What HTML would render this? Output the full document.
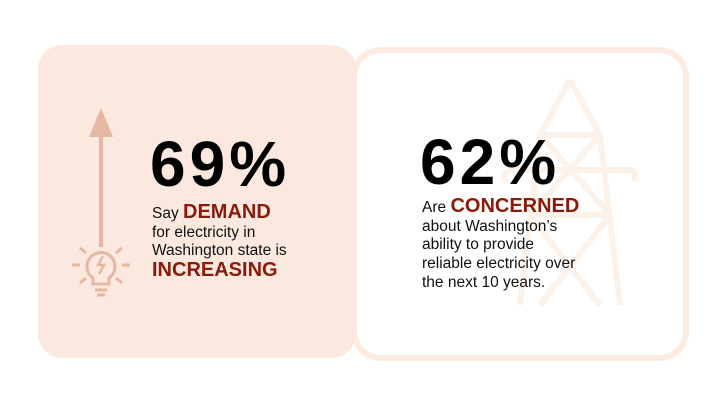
<!DOCTYPE html>
<html><head><style>
body{margin:0;width:720px;height:405px;background:#fff;overflow:hidden;position:relative;font-family:"Liberation Sans",sans-serif}
.a{position:absolute}
.big{font-weight:bold;font-size:64px;color:#000;letter-spacing:4px;line-height:1}
.t{font-size:15.5px;color:#111;line-height:18.7px}
.h{font-weight:bold;font-size:20px;color:#8a1a0a}
</style></head><body>
<div class="a" style="left:351px;top:47px;width:326px;height:302px;border:6px solid #fcebe0;border-radius:30px"></div>
<svg class="a" style="left:500px;top:75px" width="140" height="240" viewBox="0 0 140 240" fill="none" stroke="#fdf2ea" stroke-width="6">
<path d="M70 5 L40 60 L20 230 M70 5 L100 60 L120 230 M40 60 L100 60 M5 95 L135 95 M5 95 v12 M135 95 v12 M30 140 L110 140 M30 140 L100 230 M110 140 L40 230 M40 60 L110 140 M100 60 L30 140"/>
</svg>
<div class="a" style="left:38px;top:45px;width:318px;height:313px;background:#fbe9e0;border-radius:24px"></div>
<svg class="a" style="left:60px;top:100px" width="90" height="200" fill="none" stroke="#e6b8a4" stroke-width="3">
<polygon points="41,8 29,37 53,37" fill="#e6b8a4" stroke="none"/>
<line x1="41" y1="37" x2="41" y2="147" stroke-width="4"/>
<path d="M33 178 a14 14 0 1 1 16 0 v6 h-16z"/>
<path d="M35 190 h12 M37 195 h8"/>
<path d="M43 156 l-5 9 h6 l-5 9" stroke-width="2.5"/>
<path d="M12 165 h8 M62 165 h8 M20 148 l6 5 M62 148 l-6 5 M20 183 l6 -5 M62 183 l-6 -5"/>
</svg>
<div class="a big" style="left:150px;top:132px">69%</div>
<div class="a t" style="left:152px;top:203px">Say <span class="h">DEMAND</span><br>for electricity in<br>Washington state is<br><span class="h">INCREASING</span></div>
<div class="a big" style="left:420px;top:130px">62%</div>
<div class="a t" style="left:422px;top:197px">Are <span class="h">CONCERNED</span><br>about Washington’s<br>ability to provide<br>reliable electricity over<br>the next 10 years.</div>
</body></html>
